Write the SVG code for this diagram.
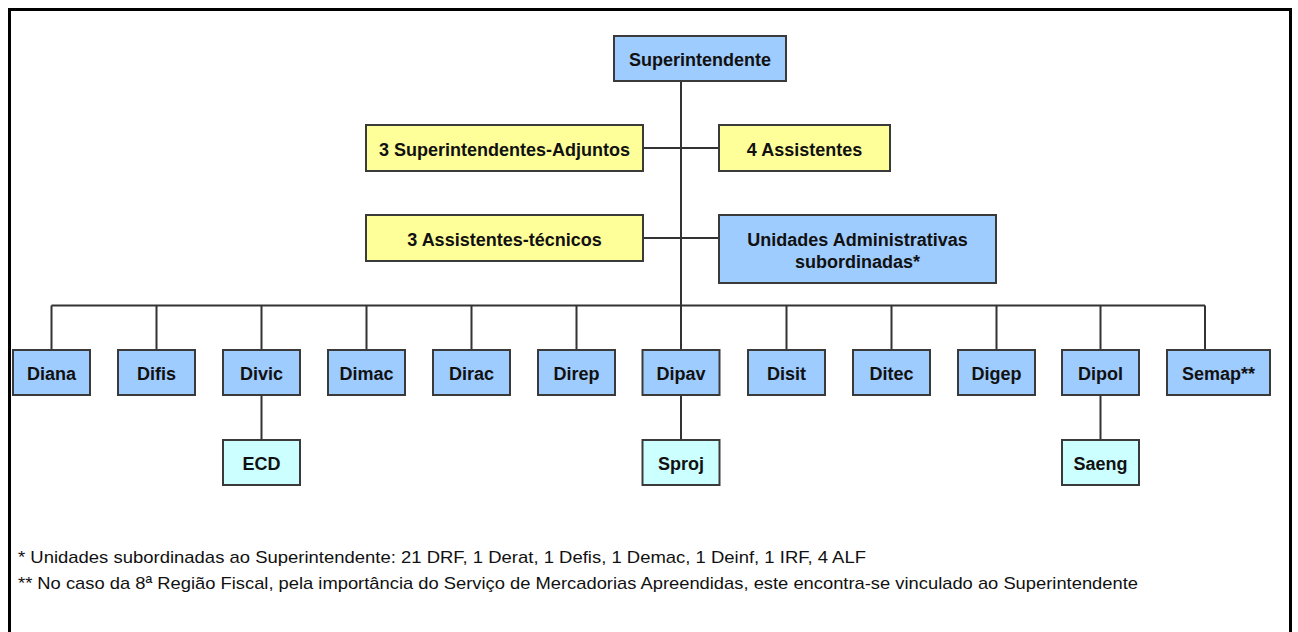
<svg xmlns="http://www.w3.org/2000/svg" width="1298" height="632" viewBox="0 0 1298 632">
<style>
.box{stroke:#3a3a3a;stroke-width:2}
.blue{fill:#9FCCFF}
.yellow{fill:#FFFF99}
.cyan{fill:#CCFFFF}
.t{font-family:"Liberation Sans",Arial,sans-serif;font-weight:bold;font-size:18px;fill:#111;text-anchor:middle}
.note{font-family:"Liberation Sans",Arial,sans-serif;font-size:17px;fill:#111}
.conn{stroke:#333;stroke-width:2;fill:none}
</style>
<rect x="0" y="0" width="1298" height="632" fill="#fff"/>
<rect x="9.5" y="9.5" width="1281" height="640" fill="none" stroke="#000" stroke-width="3"/>
<g id="connectors" class="conn">
<path d="M681 81V350"/>
<path d="M643 148H719"/>
<path d="M643 238H719"/>
<path d="M51.5 305.5H1205"/>
<path d="M51.5 305.5V350M156.5 305.5V350M261.5 305.5V350M366.5 305.5V350M471.5 305.5V350M576.5 305.5V350M786.5 305.5V350M891.5 305.5V350M996.5 305.5V350M1100.5 305.5V350M1205 305.5V350"/>
<path d="M261.5 395V440M681 395V440M1100.5 395V440"/>
</g>
<g id="superintendente"><rect class="box blue" x="614" y="36" width="172" height="45"/><text class="t" x="700" y="65.5">Superintendente</text></g>
<g id="adjuntos"><rect class="box yellow" x="366" y="125" width="277" height="46"/><text class="t" x="504.5" y="155.5">3 Superintendentes-Adjuntos</text></g>
<g id="assistentes"><rect class="box yellow" x="719" y="125" width="171" height="46"/><text class="t" x="804.5" y="155.5">4 Assistentes</text></g>
<g id="tecnicos"><rect class="box yellow" x="366" y="215" width="277" height="46"/><text class="t" x="504.5" y="245.5">3 Assistentes-técnicos</text></g>
<g id="unidades"><rect class="box blue" x="719" y="215" width="277" height="68"/><text class="t" x="857.5" y="245.5">Unidades Administrativas</text><text class="t" x="857.5" y="267.5">subordinadas*</text></g>
<g id="diana"><rect class="box blue" x="13" y="350" width="77" height="45"/><text class="t" x="51.5" y="379.5">Diana</text></g>
<g id="difis"><rect class="box blue" x="118" y="350" width="77" height="45"/><text class="t" x="156.5" y="379.5">Difis</text></g>
<g id="divic"><rect class="box blue" x="223" y="350" width="77" height="45"/><text class="t" x="261.5" y="379.5">Divic</text></g>
<g id="dimac"><rect class="box blue" x="328" y="350" width="77" height="45"/><text class="t" x="366.5" y="379.5">Dimac</text></g>
<g id="dirac"><rect class="box blue" x="433" y="350" width="77" height="45"/><text class="t" x="471.5" y="379.5">Dirac</text></g>
<g id="direp"><rect class="box blue" x="538" y="350" width="77" height="45"/><text class="t" x="576.5" y="379.5">Direp</text></g>
<g id="dipav"><rect class="box blue" x="642.5" y="350" width="77" height="45"/><text class="t" x="681" y="379.5">Dipav</text></g>
<g id="disit"><rect class="box blue" x="748" y="350" width="77" height="45"/><text class="t" x="786.5" y="379.5">Disit</text></g>
<g id="ditec"><rect class="box blue" x="853" y="350" width="77" height="45"/><text class="t" x="891.5" y="379.5">Ditec</text></g>
<g id="digep"><rect class="box blue" x="958" y="350" width="77" height="45"/><text class="t" x="996.5" y="379.5">Digep</text></g>
<g id="dipol"><rect class="box blue" x="1062" y="350" width="77" height="45"/><text class="t" x="1100.5" y="379.5">Dipol</text></g>
<g id="semap"><rect class="box blue" x="1167" y="350" width="103" height="45"/><text class="t" x="1218.5" y="379.5">Semap**</text></g>
<g id="ecd"><rect class="box cyan" x="223" y="440" width="77" height="45"/><text class="t" x="261.5" y="469.5">ECD</text></g>
<g id="sproj"><rect class="box cyan" x="642.5" y="440" width="77" height="45"/><text class="t" x="681" y="469.5">Sproj</text></g>
<g id="saeng"><rect class="box cyan" x="1062" y="440" width="77" height="45"/><text class="t" x="1100.5" y="469.5">Saeng</text></g>
<g id="notes">
<text class="note" x="18" y="563" textLength="848" lengthAdjust="spacingAndGlyphs">* Unidades subordinadas ao Superintendente: 21 DRF, 1 Derat, 1 Defis, 1 Demac, 1 Deinf, 1 IRF, 4 ALF</text>
<text class="note" x="18" y="589" textLength="1120" lengthAdjust="spacingAndGlyphs">** No caso da 8ª Região Fiscal, pela importância do Serviço de Mercadorias Apreendidas, este encontra-se vinculado ao Superintendente</text>
</g>
</svg>
